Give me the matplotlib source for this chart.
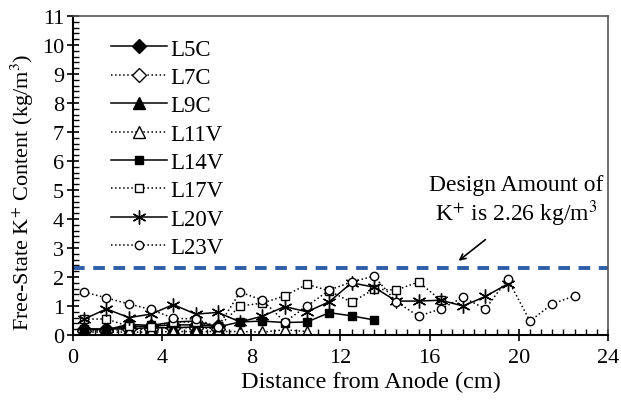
import matplotlib
matplotlib.use("Agg")
import matplotlib.pyplot as plt
from matplotlib.ticker import MultipleLocator

plt.rcParams['font.family'] = ['Liberation Serif', 'DejaVu Serif']
plt.rcParams['mathtext.fontset'] = 'stix'

# distance from anode (cm), segment midpoints
dist = [0.5 + i for i in range(23)]

L5C = [0.22, 0.20, 0.30, 0.30, 0.35, 0.35, 0.30]
L7C = [0.15, 0.15, 0.20, 0.20, 0.25, 0.25, 0.22]
L9C = [0.20, 0.20, 0.22, 0.25, 0.25, 0.28, 0.25]
L11V = [0.10, 0.10, 0.10, 0.10, 0.12, 0.12, 0.12, 0.12, 0.10, 0.18, 0.12]
L14V = [0.20, 0.18, 0.37, 0.33, 0.45, 0.48, 0.28, 0.45, 0.48, 0.43, 0.45,
        0.77, 0.66, 0.52]
L17V = [0.55, 0.55, 0.30, 0.27, 0.45, 0.45, 0.28, 1.00, 1.10, 1.35, 1.75,
        1.52, 1.13, 1.58, 1.55, 1.83, 1.20]
L20V = [0.55, 0.90, 0.60, 0.72, 1.05, 0.72, 0.78, 0.45, 0.65, 0.98, 0.80,
        1.15, 1.80, 1.65, 1.17, 1.17, 1.20, 1.00, 1.33, 1.76]
L23V = [1.48, 1.28, 1.07, 0.88, 0.58, 0.55, 0.28, 1.48, 1.20, 0.45, 1.00,
        1.55, 1.83, 2.03, 1.15, 0.65, 0.90, 1.30, 0.90, 1.93, 0.48, 1.07, 1.35]

design = 2.3

series = [
    ("L5C", L5C, '-', 'D', 'black', 7),
    ("L7C", L7C, ':', 'D', 'white', 7),
    ("L9C", L9C, '-', '^', 'black', 8.5),
    ("L11V", L11V, ':', '^', 'white', 8.5),
    ("L14V", L14V, '-', 's', 'black', 6),
    ("L17V", L17V, ':', 's', 'white', 6),
    ("L20V", L20V, '-', (6, 2, 0), 'black', 10),
    ("L23V", L23V, ':', 'o', 'white', 6),
]

fig = plt.figure(figsize=(6.21, 4.06), dpi=100)
ax = fig.add_axes([0.1176, 0.1724, 0.979 - 0.1176, 0.958 - 0.1724])

for name, vals, ls, mk, fc, ms in series:
    ax.plot(dist[:len(vals)], vals, linestyle=ls, color='black', linewidth=1.1,
            marker=mk, markerfacecolor=fc, markeredgecolor='black',
            markeredgewidth=1.0, markersize=ms, label=name)

ax.axhline(design, color='#2f5ea8', linewidth=2.8, linestyle=(0, (3, 2.2)))

ax.text(19.9, 5.2, "Design Amount of", ha='center', va='center', fontsize=17)
ax.text(19.9, 4.22, "K$^{+}$ is 2.26 kg/m$^{3}$", ha='center', va='center',
        fontsize=17)
ax.annotate("", xy=(17.2, 2.5), xytext=(18.6, 3.35),
            arrowprops=dict(arrowstyle='->', color='black', lw=1.2))

ax.set_xlim(0, 24)
ax.set_ylim(0, 11)
ax.xaxis.set_major_locator(MultipleLocator(4))
ax.xaxis.set_minor_locator(MultipleLocator(0.5))
ax.yaxis.set_major_locator(MultipleLocator(1))
ax.yaxis.set_minor_locator(MultipleLocator(0.2))
ax.tick_params(which='major', direction='inout', length=9, width=1.2,
               labelsize=16, colors='black')
ax.tick_params(which='minor', direction='in', length=4, width=1.0)
ax.tick_params(axis='y', pad=2)
ax.tick_params(axis='x', pad=5)

for side in ('left', 'bottom'):
    ax.spines[side].set_linewidth(1.5)
for side in ('top', 'right'):
    ax.spines[side].set_color('#555555')
    ax.spines[side].set_linewidth(1.2)

ax.set_xlabel("Distance from Anode (cm)", fontsize=17.5)
ax.set_ylabel("Free-State K$^{+}$ Content (kg/m$^{3}$)", fontsize=16)
ax.xaxis.set_label_coords(0.557, -0.113)
ax.yaxis.set_label_coords(-0.069, 0.451)

ax.legend(loc='upper left', bbox_to_anchor=(0.041, 0.98), frameon=False,
          fontsize=16.5, handlelength=2.45, handletextpad=0.15,
          labelspacing=0.32, borderpad=0.2)

fig.savefig("out.png", dpi=100)
